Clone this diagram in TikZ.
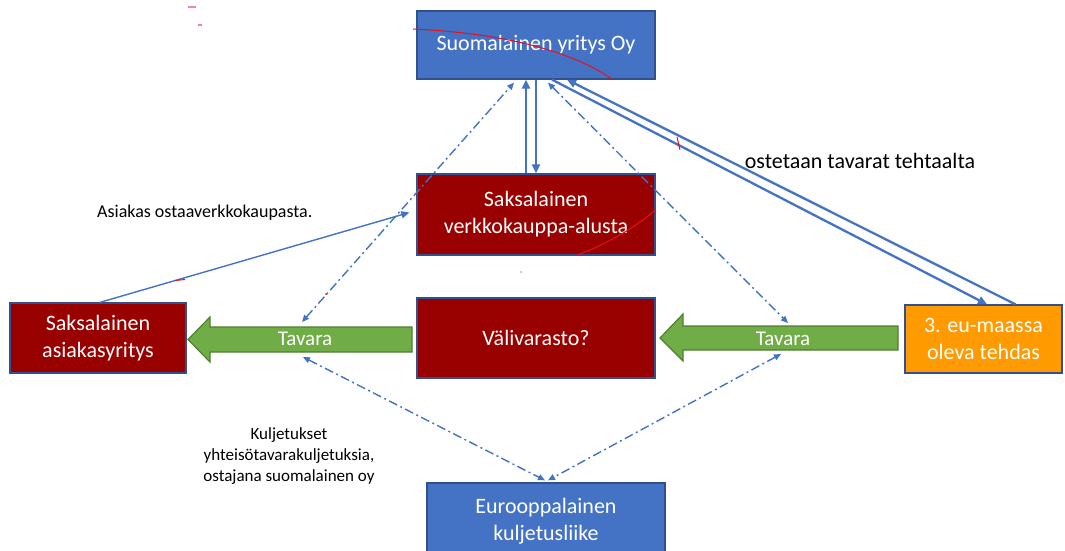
\documentclass[tikz,border=0pt]{standalone}
\usepackage{fontspec}
\setmainfont{Carlito}
\usetikzlibrary{arrows.meta,calc}

\definecolor{ofblue}{HTML}{4472C4}
\definecolor{ofedge}{HTML}{2F528F}
\definecolor{ofred}{HTML}{990000}
\definecolor{oforange}{HTML}{FF9A00}
\definecolor{ofgreen}{HTML}{70AD47}
\definecolor{ofgreenedge}{HTML}{507E32}
\definecolor{inkred}{HTML}{E8101A}
\definecolor{inkpink}{HTML}{F08A9A}

\begin{document}
\begin{tikzpicture}[x=1pt,y=-1pt,
  box/.style={draw=ofedge, line width=1.3pt, inner sep=0pt, align=center,
    text=white, font=\fontsize{22}{27}\selectfont},
  bluebox/.style={box, fill=ofblue},
  redbox/.style={box, fill=ofred},
  orangebox/.style={box, fill=oforange},
  goodsarrow/.style={fill=ofgreen, draw=ofgreenedge, line width=1.2pt},
  goodslabel/.style={text=white, font=\fontsize{21}{24}\selectfont, inner sep=0pt},
  note/.style={text=black, inner sep=0pt},
  flow/.style={draw=ofblue, line width=2.3pt, -{Triangle[length=9pt,width=8pt]}},
  thinflow/.style={draw=ofblue, line width=1.4pt, -{Triangle[length=8pt,width=7pt]}},
  link/.style={draw=ofblue, line width=1.4pt,
    dash pattern=on 9pt off 3.5pt on 2pt off 3.5pt,
    {Triangle[length=7pt,width=6pt]}-{Triangle[length=7pt,width=6pt]}},
  ink/.style={draw=inkred, line width=1pt}
]
\useasboundingbox (0,0) rectangle (1065,551);
\fill[white] (0,0) rectangle (1065,551);

% company boxes
\node[bluebox, minimum width=238pt, minimum height=68pt] (fi) at (536,45) {Suomalainen yritys Oy};
\node[redbox, minimum width=238pt, minimum height=81pt] (shop) at (536,214.5) {Saksalainen\\verkkokauppa-alusta};
\node[redbox, minimum width=238pt, minimum height=80pt] (store) at (536,338) {Välivarasto?};
\node[redbox, minimum width=176pt, minimum height=70pt] (cust) at (98,338) {Saksalainen\\asiakasyritys};
\node[orangebox, minimum width=157pt, minimum height=68pt] (plant) at (983.5,339) {3. eu-maassa\\oleva tehdas};
\node[bluebox, minimum width=238pt, minimum height=77pt] (haul) at (546,521.5) {Eurooppalainen\\kuljetusliike};

% goods flow arrows
\draw[goodsarrow] (412,327) -- (210,327) -- (210,317) -- (188,339.5) -- (210,362) -- (210,352) -- (412,352) -- cycle;
\draw[goodsarrow] (898,326) -- (683,326) -- (683,314) -- (660,338) -- (683,361) -- (683,350) -- (898,350) -- cycle;
\node[goodslabel] (tavL) at (305,339) {Tavara};
\node[goodslabel] (tavR) at (783,339) {Tavara};

% links between the company and the web shop
\draw[flow] ([xshift=-10pt]shop.north) -- ([xshift=-10pt]fi.south);
\draw[flow] (fi.south) -- (shop.north);

% purchase from the factory
\draw[flow] ([xshift=16pt]fi.south) -- ([xshift=3.5pt]plant.north);
\draw[flow] ([xshift=32pt]plant.north) -- ([xshift=31pt]fi.south);

% customer order
\draw[thinflow] ([xshift=2pt]cust.north) -- ([shift={(-7,-2)}]shop.west);

% dash-dot links
\draw[link] ([shift={(-3,-17)}]tavL.center) -- ([shift={(-22,3)}]fi.south);
\draw[link] ([shift={(12,3)}]fi.south) -- ([shift={(5,-16)}]tavR.center);
\draw[link] ([shift={(-2,18)}]tavL.center) -- ([shift={(-1,-2)}]haul.north);
\draw[link] ([shift={(-2,15)}]tavR.center) -- ([shift={(2,-2)}]haul.north);

% labels
\node[note, font=\fontsize{22}{25}\selectfont] (buyLbl) at (860,161) {ostetaan tavarat tehtaalta};
\node[note, anchor=west, font=\fontsize{18}{21}\selectfont] (orderLbl) at (97,213) {Asiakas ostaaverkkokaupasta.};
\node[note, align=center, font=\fontsize{17}{21}\selectfont] (shipLbl) at (289,456) {Kuljetukset\\yhteisötavarakuljetuksia,\\ostajana suomalainen oy};

% red pen strokes
\draw[ink] (413,29) .. controls (500,33) and (570,50) .. (612,79);
\draw[ink] (577,255) .. controls (605,245) and (635,228) .. (655,210);
\draw[ink] (677,137) -- (680,150);
\draw[ink] (175,280.5) -- (185,279.5);
\fill[inkred] (326,294) circle (1pt);
\fill[inkpink] (521,272) circle (1pt);
\draw[inkpink, line width=1.5pt] (188,7) -- (196,7);
\draw[inkpink, line width=1.5pt] (198,25) -- (202,25);
\end{tikzpicture}
\end{document}
